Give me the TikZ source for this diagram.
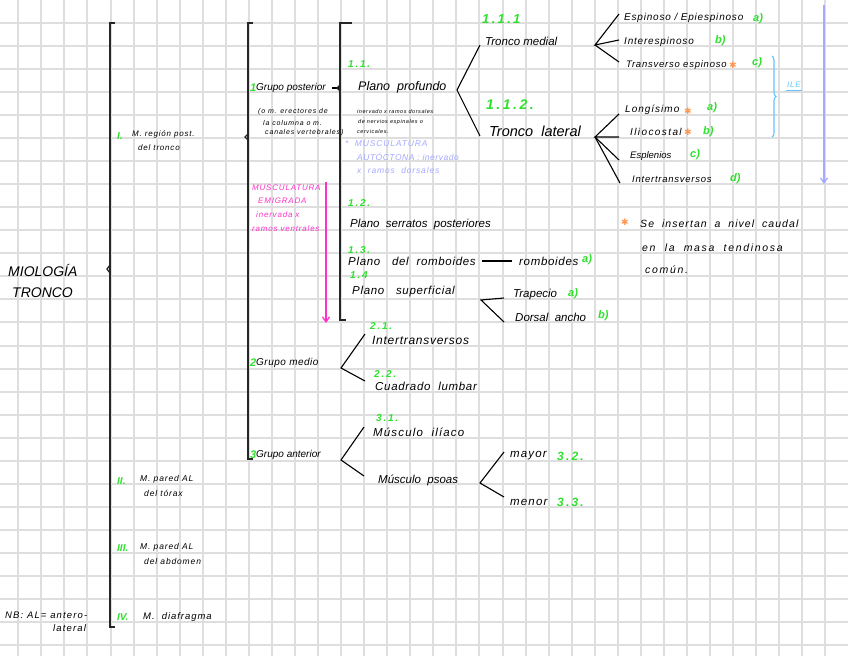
\documentclass[tikz,border=0pt]{standalone}
\usepackage{fontspec}
\setmainfont{Liberation Sans}
\newfontfamily\djv{DejaVu Sans}
\usetikzlibrary{decorations.pathreplacing,arrows.meta}
\newcommand{\hsz}[1]{\fontsize{#1}{#1}\selectfont}
\newcommand{\lsp}[1]{\addfontfeature{LetterSpace=#1}}
\definecolor{hgreen}{RGB}{45,225,45}
\definecolor{hpink}{RGB}{255,50,200}
\definecolor{hlav}{RGB}{165,170,255}
\definecolor{hcyan}{RGB}{95,200,255}
\definecolor{horange}{RGB}{255,150,80}
\definecolor{hgrid}{RGB}{222,222,222}
\begin{document}
\begin{tikzpicture}[x=1pt,y=-1pt,
  hwt/.style={anchor=west,inner sep=1pt,font=\hsz{#1}\itshape},
  hwt/.default=11,
  hww/.style 2 args={anchor=west,inner sep=1pt,font=\hsz{#1}\itshape\lsp{#2}},
  hwg/.style={anchor=west,inner sep=1pt,text=hgreen,font=\hsz{#1}\itshape\bfseries},
  hwg/.default=11,
  hwn/.style={anchor=west,inner sep=1pt,text=hgreen,font=\hsz{#1}\itshape\bfseries\lsp{18}},
  hwn/.default=10,
  hwp/.style 2 args={anchor=west,inner sep=1pt,text=hpink,font=\hsz{#1}\itshape\lsp{#2}},
  hwl/.style 2 args={anchor=west,inner sep=1pt,text=hlav,font=\hsz{#1}\itshape\lsp{#2}},
  hws/.style={anchor=center,inner sep=0pt,text=horange,font=\djv\hsz{9}},
  con/.style={line width=1.1pt,black},
  brk/.style={line width=1.3pt,black!85},
]
\useasboundingbox (0,0) rectangle (848,656);
\fill[white] (0,0) rectangle (848,656);
% grid (snapped to whole pixels)
\foreach \i in {0,...,35} {
  \pgfmathsetmacro{\gx}{round(18.3+\i*23.06)}
  \draw[hgrid,line width=2pt] (\gx,0) -- (\gx,656);
}
\foreach \j in {0,...,27} {
  \pgfmathsetmacro{\gy}{round(22.7+\j*23.06)}
  \draw[hgrid,line width=2pt] (0,\gy) -- (848,\gy);
}

% ---- title
\node[hwt=14] (mio) at (7,270) {MIOLOGÍA};
\node[hwt=14] (tro) at (11,293) {TRONCO};

% main bracket
\draw[brk] (115,23) -- (110,23) -- (110,627) -- (115,627);
\draw[brk] (110,265) -- (107,269) -- (110,273);

% level I
\node[hwg=10] (nI) at (116,136) {I.};
\node[hww={8}{10}] (mI) at (131,134) {M. región post.};
\node[hww={8}{10}] at (137,148) {del tronco};
\node[hwg=10] (nII) at (116,481) {II.};
\node[hww={8.5}{10}] (mII) at (139,479) {M. pared AL};
\node[hww={8.5}{10}] at (143,493) {del tórax};
\node[hwg=10] (nIII) at (116,548) {III.};
\node[hww={8.5}{10}] (mIII) at (139,547) {M. pared AL};
\node[hww={8.5}{10}] at (143,561) {del abdomen};
\node[hwg=10] (nIV) at (116,617) {IV.};
\node[hww={9.5}{10}] (mIV) at (142,617) {M.\ \ diafragma};
\node[hww={9.5}{12}] (nb) at (4,615) {NB: AL= antero-};
\node[hww={9.5}{12}] at (52,628) {lateral};

% second bracket
\draw[brk] (253,23) -- (248,23) -- (248,459) -- (253,459);
\draw[brk] (248,134) -- (245,137) -- (248,140);

\node[hwg=11] (n1) at (249,88) {1};
\node[hww={10}{0}] (gp) at (255,88) {Grupo posterior};
\node[hww={7}{12}] at (257,112) {(o m. erectores de};
\node[hww={7}{12}] at (262,123) {la columna o m.};
\node[hww={7}{12}] at (264,133) {canales vertebrales)};
\node[hwp={8}{10}] at (251,188) {MUSCULATURA};
\node[hwp={8}{10}] at (257,201) {EMIGRADA};
\node[hwp={8}{10}] at (255,215) {inervada x};
\node[hwp={8}{10}] at (251,229) {ramos ventrales};
\coordinate (pkTop) at (326,182);
\coordinate (pkBot) at (326,323);
\draw[hpink,line width=1.3pt,-{Straight Barb[length=5pt,width=7pt]}] (pkTop) -- (pkBot);

\node[hwg=11] (n2) at (249,363) {2};
\node[hww={10}{5}] (gm) at (255,363) {Grupo medio};
\node[hwg=11] (n3) at (249,455) {3};
\node[hww={10}{0}] (ga) at (255,455) {Grupo anterior};

% third bracket
\coordinate (b3) at (339,88);
\draw[con] ([xshift=5pt]gp.east) -- (b3);
\draw[brk] (352,23) -- (340,23) -- (340,320) -- (346,320);
\draw[brk] (340,85) -- (337,88) -- (340,91);

\node[hwn=10] at (347,64) {1.1.};
\node[hwt=12.5] (pp) at (357,87) {Plano\ \ profundo};
\node[hww={5.5}{10}] at (356,112) {inervado x ramos dorsales};
\node[hww={5.5}{10}] at (357,122) {de nervios espinales o};
\node[hww={5.5}{10}] at (356,132) {cervicales.};
\node[hwl={8.5}{10}] at (344,144) {*\ \ MUSCULATURA};
\node[hwl={8.5}{6}] at (356,157) {AUTÓCTONA : inervado};
\node[hwl={8.5}{10}] at (356,170) {x\ \ ramos\ \ dorsales};

\node[hwn=10] at (347,203) {1.2.};
\node[hwt=11.5] (ps) at (349,225) {Plano\ \ serratos\ \ posteriores};
\node[hwn=10] at (347,250) {1.3.};
\node[hww={11.5}{6}] (pr) at (347,261) {Plano\ \ \ del\ \ romboides};
\node[hww={11.5}{6}] (rom) at (518,261) {romboides};
\node[hwg=11] at (581,260) {a)};
\draw[con] ([xshift=5pt]pr.east) -- ([xshift=-6pt]rom.west);
\node[hwn=10] at (349,275) {1.4};
\node[hww={11.5}{6}] (psup) at (351,292) {Plano\ \ \ superficial};
\node[hwt=11.5] (trap) at (512,295) {Trapecio};
\node[hwg=11] at (567,294) {a)};
\node[hwt=11.5] (dors) at (514,317) {Dorsal\ \ ancho};
\node[hwg=11] at (597,316) {b)};
\coordinate (fSup) at (481,300);
\draw[con] ([xshift=-8pt,yshift=-3pt]trap.west) -- (fSup) -- ([xshift=-10pt,yshift=-5pt]dors.west);

% tronco medial / lateral
\coordinate (fPP) at (457,90);
\node[hwn=13] at (481,19) {1.1.1};
\node[hwt=11.5] (tm) at (484,41) {Tronco\ medial};
\node[hwn=14] at (485,105) {1.1.2.};
\node[hwt=14.5] (tl) at (488,131) {Tronco\ \ lateral};
\draw[con] ([xshift=-4pt,yshift=-4pt]tm.west) -- (fPP) -- ([xshift=-8pt,yshift=-5pt]tl.west);

\coordinate (fTM) at (595,45);
\node[hww={10}{8}] (esp) at (623,18) {Espinoso / Epiespinoso};
\node[hwg=11] at (752,19) {a)};
\node[hww={10}{8}] (inte) at (623,42) {Interespinoso};
\node[hwg=11] at (714,41) {b)};
\node[hww={9.5}{8}] (trv) at (625,65) {Transverso espinoso};
\node[hws] at (733,65) {✱};
\node[hwg=11] at (751,63) {c)};
\draw[con] ([xshift=-4pt,yshift=4pt]esp.west) -- (fTM) -- ([xshift=-4pt,yshift=2pt]inte.west);
\draw[con] (fTM) -- ([xshift=-6pt,yshift=3pt]trv.west);

\coordinate (fTL) at (595,137);
\node[hww={10}{10}] (lon) at (624,110) {Longísimo};
\node[hws] at (688,111) {✱};
\node[hwg=11] at (706,108) {a)};
\node[hww={10}{14}] (ilio) at (629,132) {Iliocostal};
\node[hws] at (688,132) {✱};
\node[hwg=11] at (702,132) {b)};
\node[hwt=9.5] (espl) at (629,156) {Esplenios};
\node[hwg=11] at (689,155) {c)};
\node[hww={9.5}{8}] (intt) at (631,179) {Intertransversos};
\node[hwg=11] at (729,179) {d)};
\draw[con] ([xshift=-5pt,yshift=-4pt]lon.west) -- (fTL) -- ([xshift=-10pt,yshift=-5pt]ilio.west);
\draw[con] (fTL) -- ([xshift=-10pt,yshift=-4pt]espl.west);
\draw[con] (fTL) -- ([xshift=-11pt,yshift=-4pt]intt.west);

% ILE brace and lavender arrow
\draw[hcyan,line width=1.1pt,decorate,decoration={brace,amplitude=4pt}] (772,56) -- (772,137);
\node[anchor=west,inner sep=1pt,text=hcyan,font=\hsz{8}\itshape\lsp{10}] (ile) at (786,85) {ILE};
\draw[hcyan,line width=0.8pt] ([yshift=-1pt]ile.south west) -- ([yshift=-1pt]ile.south east);
\coordinate (lvTop) at (824,5);
\coordinate (lvBot) at (824,184);
\draw[hlav,line width=1.3pt,-{Straight Barb[length=5pt,width=7pt]}] (lvTop) -- (lvBot);

% note
\node[hws] at (625,222) {✱};
\node[hww={10.5}{10}] at (639,224) {Se\ \ insertan\ \ a\ \ nivel\ \ caudal};
\node[hww={10.5}{16}] at (641,248) {en\ \ la\ \ masa\ \ tendinosa};
\node[hww={10.5}{16}] at (644,270) {común.};

% grupo medio
\node[hwn=10] at (369,326) {2.1.};
\node[hww={12}{6}] (it2) at (371,340) {Intertransversos};
\node[hwn=10] at (373,374) {2.2.};
\node[hww={11.5}{6}] (cl) at (374,386) {Cuadrado\ \ lumbar};
\coordinate (fGM) at (341,368);
\draw[con] ([xshift=-6pt,yshift=6pt]it2.west) -- (fGM) -- ([xshift=-9pt,yshift=5pt]cl.west);

% grupo anterior
\node[hwn=10] at (375,418) {3.1.};
\node[hww={11.5}{10}] (mil) at (372,432) {Músculo\ \ ilíaco};
\node[hwt=11.5] (mps) at (377,480) {Músculo\ \ psoas};
\coordinate (fGA) at (341,460);
\draw[con] ([xshift=-8pt,yshift=5pt]mil.west) -- (fGA) -- ([xshift=-13pt,yshift=4pt]mps.west);
\node[hww={11.5}{10}] (may) at (509,456) {mayor};
\node[hwn=12] at (556,456) {3.2.};
\node[hww={11.5}{10}] (men) at (509,502) {menor};
\node[hwn=12] at (556,502) {3.3.};
\coordinate (fPS) at (480,483);
\draw[con] ([xshift=-5pt,yshift=4pt]may.west) -- (fPS) -- ([xshift=-5pt,yshift=5pt]men.west);
\end{tikzpicture}
\end{document}
